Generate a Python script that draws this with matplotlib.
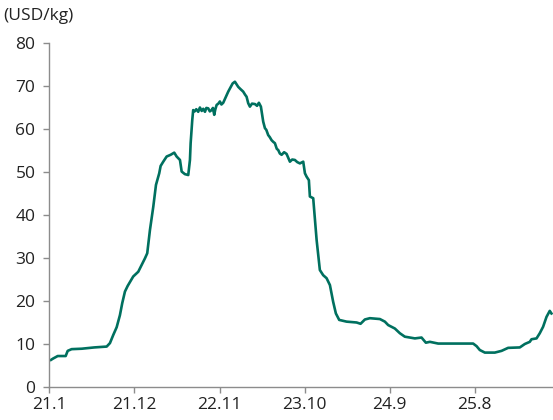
import matplotlib
matplotlib.use("Agg")
import matplotlib.pyplot as plt

# Price series: months elapsed since Jan 2021, and price in USD/kg
months = [0.22, 0.48, 1.09, 2.12, 2.38, 2.89, 4.19, 5.81, 7.42, 7.84, 8.27, 8.71,
          9.13, 9.43, 9.78, 10.13, 10.56, 10.85, 11.50, 12.36, 12.66, 13.01, 13.44,
          13.79, 14.21, 14.39, 14.73, 15.17, 15.68, 16.15, 16.46, 16.89, 17.11, 17.53,
          17.96, 18.18, 18.27, 18.48, 18.60, 18.80, 19.00, 19.25, 19.47, 19.70, 19.90,
          20.12, 20.30, 20.54, 20.75, 20.98, 21.15, 21.32, 21.45, 21.63, 21.85, 22.05,
          22.25, 22.48, 23.13, 23.70, 23.99, 24.20, 24.42, 24.70, 25.06, 25.30, 25.50,
          25.71, 25.93, 26.20, 26.58, 26.85, 27.09, 27.35, 27.65, 27.87, 28.05, 28.29,
          28.50, 28.73, 28.95, 29.16, 29.40, 29.59, 29.80, 30.03, 30.35, 30.67, 31.10,
          31.40, 31.74, 32.05, 32.39, 32.82, 33.04, 33.26, 33.55, 33.68, 34.11, 34.55,
          34.97, 35.40, 35.84, 36.27, 36.69, 37.04, 37.47, 38.42, 39.72, 40.23, 40.79,
          41.43, 42.73, 43.37, 43.80, 44.66, 45.31, 45.95, 47.25, 48.11, 48.67, 49.19,
          50.26, 52.50, 54.78, 55.22, 55.64, 56.29, 57.58, 58.45, 59.30, 60.81, 61.46,
          62.10, 62.32, 62.97, 63.39, 63.82, 64.26, 64.68, 64.90]
price = [6.3, 6.6, 7.2, 7.2, 8.4, 8.8, 8.9, 9.2, 9.4, 10.2, 12.1, 13.9,
         16.7, 19.5, 22.2, 23.5, 24.8, 25.7, 26.8, 29.9, 31.1, 36.5, 41.9,
         47.0, 49.7, 51.4, 52.4, 53.6, 54.0, 54.5, 53.6, 52.8, 50.1, 49.5,
         49.3, 52.8, 56.7, 62.1, 64.4, 64.1, 64.6, 64.0, 65.0, 64.2, 64.7,
         64.0, 64.9, 64.8, 64.1, 64.4, 64.9, 63.3, 64.5, 65.6, 65.9, 66.4,
         65.7, 66.1, 68.7, 70.6, 71.0, 70.4, 69.8, 69.3, 68.7, 68.0, 67.5,
         66.0, 65.2, 65.9, 65.8, 65.4, 66.1, 65.2, 61.7, 60.2, 59.8, 58.6,
         58.1, 57.4, 57.0, 56.7, 55.4, 55.1, 54.3, 54.0, 54.6, 54.2, 52.4,
         52.9, 52.8, 52.3, 52.0, 52.4, 49.7, 48.9, 48.1, 44.3, 43.9, 34.2,
         27.2, 26.0, 25.3, 23.7, 19.8, 17.1, 15.6, 15.2, 15.0, 14.7, 15.7,
         16.0, 15.8, 15.2, 14.4, 13.6, 12.5, 11.7, 11.3, 11.5, 10.3, 10.5,
         10.1, 10.1, 10.1, 9.5, 8.6, 8.0, 8.0, 8.4, 9.1, 9.2, 10.0,
         10.5, 11.1, 11.3, 12.5, 14.0, 16.3, 17.7, 17.1]

tick_pos = [0, 11, 22, 33, 44, 55]
tick_labels = ["21.1", "21.12", "22.11", "23.10", "24.9", "25.8"]
y_ticks = [0, 10, 20, 30, 40, 50, 60, 70, 80]

plt.rcParams["font.family"] = ["Open Sans", "DejaVu Sans"]

fig = plt.figure(figsize=(5.53, 4.20), dpi=100)
ax = fig.add_axes([0.0891, 0.0786, 0.9109, 0.819])

ax.plot(months, price, color="#00705F", lw=1.9, solid_joinstyle="round")

ax.set_xlim(0, 65.1)
ax.set_ylim(0, 80)
ax.set_xticks(tick_pos)
ax.set_xticklabels(tick_labels)
ax.set_yticks(y_ticks)

for s in ("top", "right"):
    ax.spines[s].set_visible(False)
for s in ("left", "bottom"):
    ax.spines[s].set_color("#8c8c8c")
    ax.spines[s].set_linewidth(1.0)

ax.tick_params(axis="both", colors="#8c8c8c", labelcolor="#222222",
               labelsize=12.5, length=4, width=1.0, direction="out")
ax.tick_params(axis="y", pad=6)
ax.tick_params(axis="x", pad=3)

fig.text(0.005, 0.962, "(USD/kg)", fontsize=12.5, color="#222222",
         ha="left", va="center")

fig.savefig("out.png", dpi=100)
